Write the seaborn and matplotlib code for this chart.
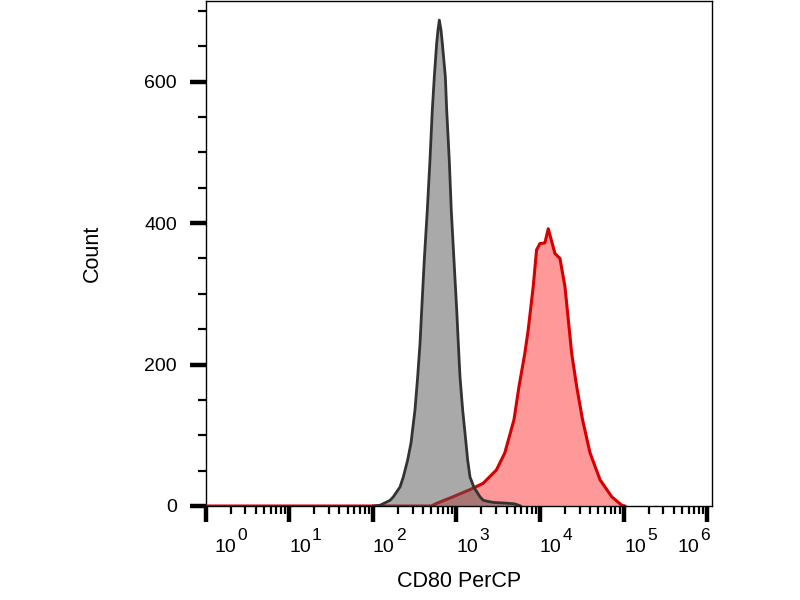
import numpy as np
import pandas as pd
import matplotlib
matplotlib.use("Agg")
import matplotlib.pyplot as plt
import matplotlib.ticker as mticker
import seaborn as sns

# ==========================================================
# DATA  (x in log10 units of CD80 PerCP, y = event count)
# ==========================================================

control_log = [2.00, 2.087, 2.207, 2.247, 2.327, 2.366, 2.418, 2.458, 2.506,
               2.538, 2.566, 2.586, 2.617, 2.653, 2.685, 2.713, 2.737, 2.765,
               2.781, 2.797, 2.817, 2.833, 2.869, 2.885, 2.916, 2.940, 2.972,
               3.005, 3.024, 3.044, 3.076, 3.116, 3.136, 3.164, 3.209, 3.283,
               3.323, 3.40, 3.45, 3.60, 3.70, 3.77]
control_count = [0, 1, 8, 13, 27, 41, 65, 89, 136,
                 183, 230, 277, 348, 418, 489, 560, 607, 654,
                 673, 687, 673, 654, 607, 560, 489, 418, 348,
                 277, 230, 183, 136, 89, 65, 41, 27, 13,
                 8, 6, 5, 4, 3, 0]

cd80_log = [0.0, 2.70, 2.77, 2.96, 3.16, 3.32, 3.48, 3.58, 3.69, 3.75, 3.82,
            3.86, 3.92, 3.96, 4.00, 4.06, 4.10, 4.18, 4.24, 4.30, 4.34,
            4.38, 4.44, 4.51, 4.60, 4.72, 4.86, 4.98, 5.02]
cd80_count = [0, 0, 4, 13, 23, 32, 51, 75, 122, 169, 216,
              249, 310, 362, 371, 372, 392, 357, 350, 310, 263,
              216, 169, 122, 75, 37, 13, 1, 0]

decades = [0, 1, 2, 3, 4, 5, 6]
y_major = [0, 200, 400, 600]

control = pd.DataFrame({"x": np.power(10.0, control_log), "count": control_count})
cd80 = pd.DataFrame({"x": np.power(10.0, cd80_log), "count": cd80_count})

# ==========================================================
# STYLE
# ==========================================================

sns.set_style("ticks")
plt.rcParams["font.family"] = ["Liberation Sans", "DejaVu Sans"]
plt.rcParams["text.color"] = "black"
plt.rcParams["axes.labelcolor"] = "black"
plt.rcParams["xtick.color"] = "black"
plt.rcParams["ytick.color"] = "black"

fig = plt.figure(figsize=(8, 6), dpi=100)
ax = fig.add_axes([205.5 / 800, 1 - 506 / 600, (712 - 205.5) / 800, 505 / 600])

# ==========================================================
# HISTOGRAMS
# ==========================================================

ax.fill_between(cd80["x"], cd80["count"], color="#ff9898", lw=0, zorder=2)
sns.lineplot(data=cd80, x="x", y="count", color="#d60000", lw=2.2,
             sort=False, ax=ax, zorder=3)

ax.fill_between(control["x"], control["count"], color="#555555", alpha=0.5,
                lw=0, zorder=4)
sns.lineplot(data=control, x="x", y="count", color="#333333", lw=2.0,
             sort=False, ax=ax, zorder=5)

# ==========================================================
# AXES
# ==========================================================

ax.set_xscale("log")
ax.set_xlim(1, 10 ** ((712 - 205.5) / 83.6))
ax.set_ylim(0, 714)

ax.xaxis.set_major_locator(mticker.FixedLocator([10.0 ** d for d in decades]))
ax.xaxis.set_major_formatter(mticker.FixedFormatter(["10"] * len(decades)))
ax.xaxis.set_minor_locator(mticker.LogLocator(base=10, subs=np.arange(2, 10), numticks=50))
ax.xaxis.set_minor_formatter(mticker.NullFormatter())

ax.yaxis.set_major_locator(mticker.FixedLocator(y_major))
ax.yaxis.set_minor_locator(mticker.MultipleLocator(50))

ax.tick_params(axis="both", which="major", direction="out", length=11.5,
               width=3.2, color="black", labelsize=14, labelcolor="black")
ax.tick_params(axis="both", which="minor", direction="out", length=6,
               width=1.6, color="black")
ax.tick_params(axis="x", which="major", pad=12)
ax.tick_params(axis="y", which="major", pad=9)

for side in ["top", "right", "left", "bottom"]:
    ax.spines[side].set_visible(True)
    ax.spines[side].set_color("black")
    ax.spines[side].set_linewidth(1.0)
ax.spines["bottom"].set_zorder(6)

# "10" labels start at their tick (first one a bit right, last one ends at it),
# the exponent is drawn raised and nearly full size next to it
base_shift = [9, 0, 0, 0, 0, 1, -30]
ticks = ax.xaxis.get_major_ticks()
for t, d, dx in zip(ticks, decades, base_shift):
    t.label1.set_horizontalalignment("left")
    t.label1.set_transform(t.label1.get_transform() +
                           matplotlib.transforms.ScaledTranslation(dx / 100, 0, fig.dpi_scale_trans))
    ax.annotate(str(d), xy=(10.0 ** d, 0), xycoords=("data", "axes fraction"),
                xytext=(dx + 23, -34), textcoords="offset pixels",
                ha="left", va="baseline", fontsize=12.5, color="black",
                annotation_clip=False)

ax.set_xlabel("CD80 PerCP", fontsize=15.5)
ax.set_ylabel("Count", fontsize=15.5)
ax.xaxis.set_label_coords(0.5, (506 - 571) / 505)
ax.yaxis.set_label_coords((103 - 205.5) / 506.5, 0.5)

plt.savefig("out.png", dpi=100)
plt.close()
